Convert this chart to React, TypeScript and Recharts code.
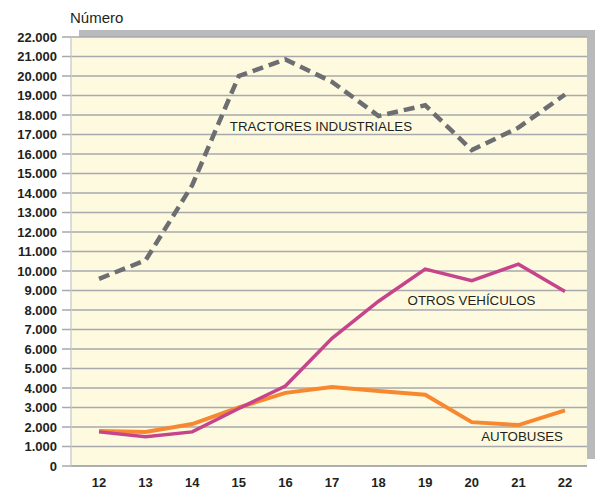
import { CartesianGrid, Line, LineChart, ReferenceDot, XAxis, YAxis } from 'recharts'

const years = ['12', '13', '14', '15', '16', '17', '18', '19', '20', '21', '22']
const tractores = [9600, 10550, 14400, 20000, 20850, 19700, 17950, 18500, 16200, 17350, 19050]
const otros = [1750, 1500, 1750, 2950, 4100, 6550, 8450, 10100, 9500, 10350, 8950]
const autobuses = [1800, 1750, 2150, 3000, 3750, 4050, 3850, 3650, 2250, 2100, 2850]
const yTicks = [0, 1000, 2000, 3000, 4000, 5000, 6000, 7000, 8000, 9000, 10000, 11000, 12000, 13000, 14000, 15000, 16000, 17000, 18000, 19000, 20000, 21000, 22000]

const data = years.map((y, i) => ({ year: y, tractores: tractores[i], otros: otros[i], autobuses: autobuses[i] }))

const W = 596
const H = 492
const margin = { top: 37, right: 9, bottom: 0, left: 0 }
const yAxisWidth = 71
const xAxisHeight = 26

const fmt = (v: number) => (v === 0 ? '0' : v.toLocaleString('de-DE'))

const textFont = '"Liberation Sans", Arial, sans-serif'

function tag(text: string, dx: number, anchor: 'start' | 'end') {
  return (p: any) => {
    const vb = p.viewBox || {}
    return (
      <text x={vb.x + dx} y={vb.y} dy={5} textAnchor={anchor} fontSize={13.3} fontFamily={textFont} fill="#231f20">
        {text}
      </text>
    )
  }
}

export default function App() {
  const plotW = W - yAxisWidth - margin.right
  const plotH = H - margin.top - xAxisHeight
  return (
    <div style={{ position: 'absolute', left: 0, top: 0, width: W, height: H, background: '#fff' }}>
      <div style={{ position: 'absolute', left: yAxisWidth + 8, top: margin.top - 7, width: plotW, height: plotH, background: '#b9babc' }} />
      <div style={{ position: 'absolute', left: 70, top: 9, fontFamily: textFont, fontSize: 15, color: '#231f20' }}>Número</div>
      <div style={{ position: 'absolute', left: 0, top: 0 }}>
        <LineChart width={W} height={H} data={data} margin={margin}>
          <CartesianGrid vertical={false} fill="#fefadf" stroke="#a7a9ac" strokeWidth={1.5} />
          <XAxis
            dataKey="year"
            height={xAxisHeight}
            padding={{ left: 28, right: 22 }}
            tickLine={false}
            tickMargin={6}
            axisLine={{ stroke: '#a7a9ac', strokeWidth: 1.5 }}
            tick={{ fill: '#231f20', fontSize: 13, fontWeight: 'bold', fontFamily: textFont }}
            interval={0}
          />
          <YAxis
            width={yAxisWidth}
            domain={[0, 22000]}
            ticks={yTicks}
            interval={0}
            tickFormatter={fmt}
            tickSize={9}
            tickMargin={5}
            tickLine={{ stroke: '#a7a9ac', strokeWidth: 1.5 }}
            axisLine={{ stroke: '#cfcfcf', strokeWidth: 1.5 }}
            tick={{ fill: '#231f20', fontSize: 13, fontWeight: 'bold', fontFamily: textFont }}
          />
          <Line type="linear" dataKey="autobuses" stroke="#f7882f" strokeWidth={4} dot={false} isAnimationActive={false} />
          <Line type="linear" dataKey="otros" stroke="#c6448b" strokeWidth={3.5} dot={false} isAnimationActive={false} />
          <Line type="linear" dataKey="tractores" stroke="#6d6e71" strokeWidth={4.5} strokeDasharray="11 6" dot={false} isAnimationActive={false} />
          <ReferenceDot x="15" y={17400} r={1} fill="none" stroke="none" label={tag('TRACTORES INDUSTRIALES', -8, 'start')} />
          <ReferenceDot x="18" y={8450} r={1} fill="none" stroke="none" label={tag('OTROS VEHÍCULOS', 30, 'start')} />
          <ReferenceDot x="22" y={1500} r={1} fill="none" stroke="none" label={tag('AUTOBUSES', -1, 'end')} />
        </LineChart>
      </div>
    </div>
  )
}
